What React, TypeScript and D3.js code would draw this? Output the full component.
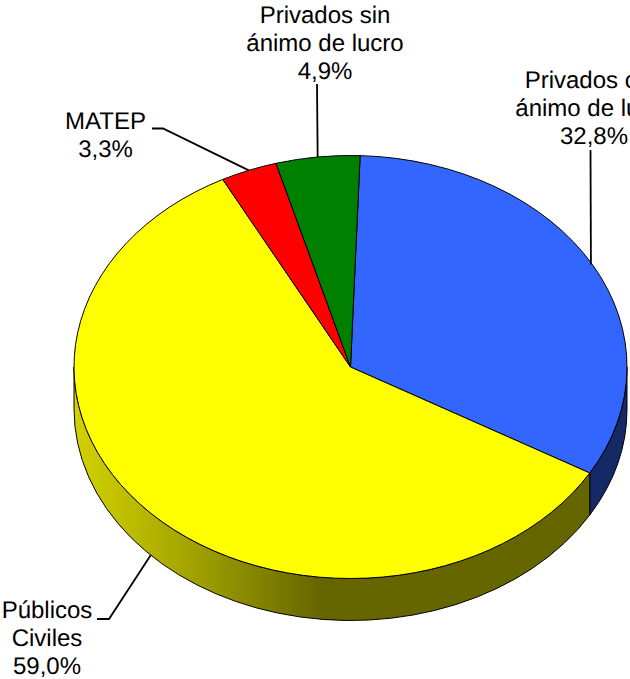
import React from "react";
import * as d3 from "d3";

// slice data, clockwise from the top of the pie
const categories = ["Privados con ánimo de lucro", "Públicos Civiles", "MATEP", "Privados sin ánimo de lucro"];
const shares = [32.8, 59.0, 3.3, 4.9];
const shareLabels = ["32,8%", "59,0%", "3,3%", "4,9%"];
const topColors = ["#3366ff", "#ffff00", "#ff0000", "#008000"];
const wallColors = ["#142966", null, "#660000", "#003300"];

// text lines per label
const labelLines = [
  ["Privados con", "ánimo de lucro"],
  ["Públicos", "Civiles"],
  ["MATEP"],
  ["Privados sin", "ánimo de lucro"],
];

const W = 630;
const H = 679;
const cx = 350.5;
const cy = 367;
const rx = 276.5;
const ry = 211.5;
const depth = 42;
const FIRST_ANGLE = (2 * Math.PI) / 180;

// label anchor (centre x, first baseline), leader start points, nudge of the leader end
const labelPos = [
  { x: 594, y: 88, leader: [[590.5, 150]], endDx: -1.5 },
  { x: 47, y: 618, leader: [[97, 619], [109, 619]], endDx: 0 },
  { x: 105.5, y: 129, leader: [[152, 128.5], [163, 128.5]], endDx: 0 },
  { x: 325, y: 23, leader: [[317, 84]], endDx: 0 },
];

const pie = d3
  .pie<number>()
  .sort(null)
  .startAngle(FIRST_ANGLE)
  .endAngle(FIRST_ANGLE + 2 * Math.PI);
const slices = pie(shares);

const arc = d3.arc<d3.PieArcDatum<number>>().innerRadius(0).outerRadius(rx);

const onRim = (a: number): [number, number] => [cx + rx * Math.sin(a), cy - ry * Math.cos(a)];

function wallPath(a0: number, a1: number) {
  const [x0, y0] = onRim(a0);
  const [x1, y1] = onRim(a1);
  const large = a1 - a0 > Math.PI ? 1 : 0;
  return (
    `M${x0},${y0}A${rx},${ry} 0 ${large} 1 ${x1},${y1}` +
    `L${x1},${y1 + depth}A${rx},${ry} 0 ${large} 0 ${x0},${y0 + depth}Z`
  );
}

const lineHeight = 28;

export default function App() {
  const front0 = Math.PI / 2;
  const front1 = (3 * Math.PI) / 2;
  return (
    <svg
      width={W}
      height={H}
      style={{ position: "absolute", left: 0, top: 0, background: "#fff", overflow: "hidden" }}
      fontFamily="'Liberation Sans', Arial, sans-serif"
      fontSize={24}
      textRendering="geometricPrecision"
    >
      <defs>
        <linearGradient id="yellowWall" gradientUnits="userSpaceOnUse" x1={cx - rx} x2={cx + rx} y1={0} y2={0}>
          <stop offset="0" stopColor="#d2d200" />
          <stop offset="0.14" stopColor="#b4b400" />
          <stop offset="0.3" stopColor="#8c8c00" />
          <stop offset="0.445" stopColor="#666600" />
          <stop offset="1" stopColor="#666600" />
        </linearGradient>
      </defs>
      {slices.map((s, i) => {
        const a0 = Math.max(s.startAngle, front0);
        const a1 = Math.min(s.endAngle, front1);
        if (a1 <= a0) return null;
        return (
          <path
            key={categories[i]}
            d={wallPath(a0, a1)}
            fill={wallColors[i] ?? "url(#yellowWall)"}
            stroke="#000"
            strokeWidth={1}
          />
        );
      })}
      <g transform={`translate(${cx},${cy}) scale(1,${ry / rx})`}>
        {slices.map((s, i) => (
          <path
            key={categories[i]}
            d={arc(s) as string}
            fill={topColors[i]}
            stroke="#000"
            strokeWidth={1}
            vectorEffect="non-scaling-stroke"
          />
        ))}
      </g>
      {slices.map((s, i) => {
        const mid = (s.startAngle + s.endAngle) / 2;
        const [px, py] = onRim(mid);
        const end = [px + labelPos[i].endDx, mid > front0 && mid < front1 ? py + depth : py];
        const pts = [...labelPos[i].leader, end] as [number, number][];
        return (
          <path
            key={categories[i]}
            d={d3.line()(pts) as string}
            fill="none"
            stroke="#000"
            strokeWidth={1.8}
          />
        );
      })}
      {categories.map((c, i) => (
        <text key={c} x={labelPos[i].x} y={labelPos[i].y} textAnchor="middle" fill="#000">
          {[...labelLines[i], shareLabels[i]].map((t, j) => (
            <tspan key={j} x={labelPos[i].x} dy={j === 0 ? 0 : lineHeight}>
              {t}
            </tspan>
          ))}
        </text>
      ))}
    </svg>
  );
}
